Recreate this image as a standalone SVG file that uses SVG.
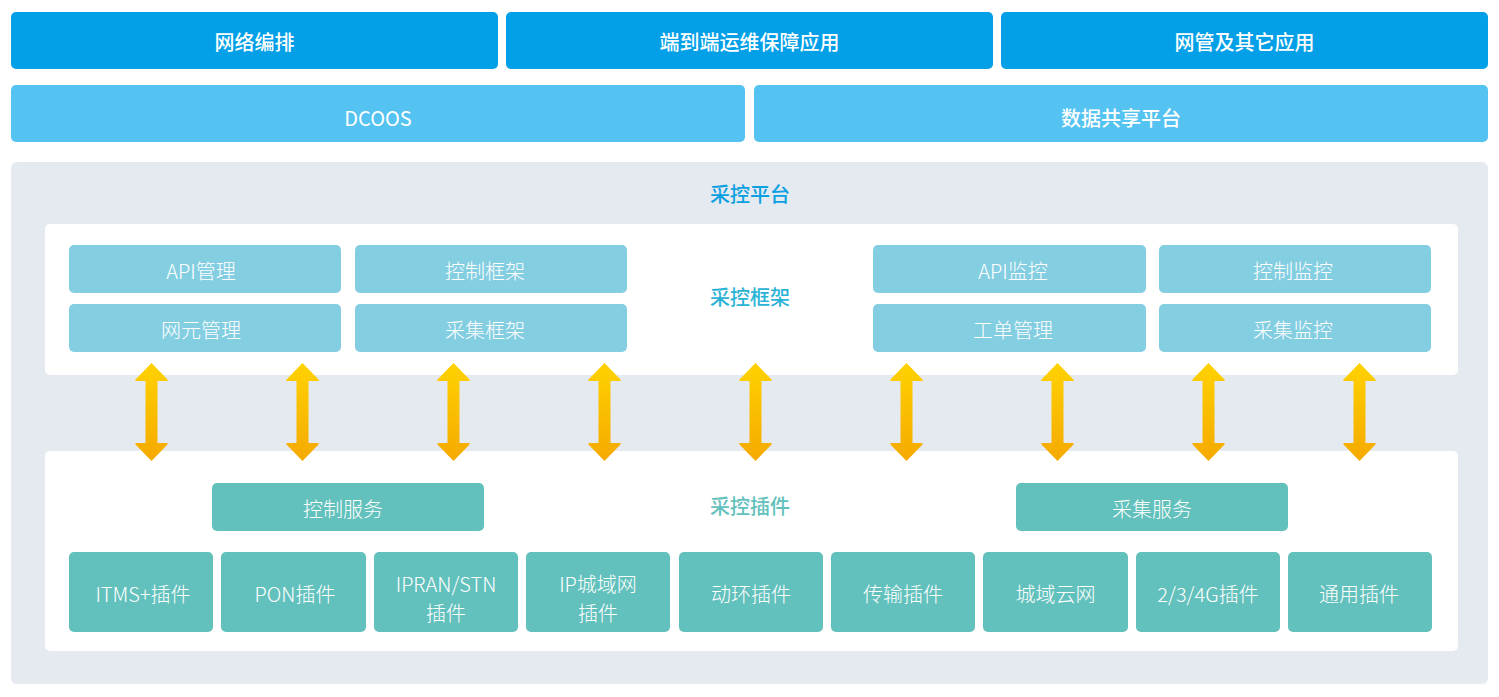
<svg xmlns="http://www.w3.org/2000/svg" width="1499" height="697" viewBox="0 0 1499 697">
<defs>
<linearGradient id="ag" x1="0" y1="0" x2="0" y2="1">
<stop offset="0" stop-color="#ffd200"/>
<stop offset="1" stop-color="#f5a900"/>
</linearGradient>
<path id="arr" d="M0,0 L16,16.5 Q17,18 15,18 L6,18 L6,80 L15,80 Q17,80 16,81.5 L0,98 L-16,81.5 Q-17,80 -15,80 L-6,80 L-6,18 L-15,18 Q-17,18 -16,16.5 Z" fill="url(#ag)"/>
<style>
text{font-family:"Noto Sans CJK SC","Noto Sans",sans-serif;text-anchor:middle;dominant-baseline:central;font-size:20px;fill:#fff;font-weight:300}
.top{fill:#03a0e8}
.sec{fill:#55c3f1}
.fw{fill:#84cee2}
.pl{fill:#62c1bc}
.b{font-weight:500}
</style>
</defs>
<rect x="0" y="0" width="1499" height="697" fill="#fff"/>
<g id="n-wlbp"><rect class="top" x="11" y="12" width="487" height="57" rx="5"/><text class="b" x="254.5" y="41">网络编排</text></g>
<g id="n-ddd"><rect class="top" x="506" y="12" width="487" height="57" rx="5"/><text class="b" x="749.5" y="41">端到端运维保障应用</text></g>
<g id="n-wg"><rect class="top" x="1001" y="12" width="487" height="57" rx="5"/><text class="b" x="1244.5" y="41">网管及其它应用</text></g>
<g id="n-dcoos"><rect class="sec" x="11" y="85" width="734" height="57" rx="5"/><text x="378" y="117" style="font-weight:400">DCOOS</text></g>
<g id="n-sjgx"><rect class="sec" x="754" y="85" width="734" height="57" rx="5"/><text class="b" x="1121" y="117">数据共享平台</text></g>
<g id="platform">
<rect x="11" y="162" width="1477" height="522" rx="6" fill="#e4eaef"/>
<text class="b" x="750" y="193" style="fill:#0aa0e2">采控平台</text>
</g>
<g id="framework">
<rect x="45" y="224" width="1413" height="151" rx="5" fill="#fff"/>
<text class="b" x="750" y="296" style="fill:#2bb3d6">采控框架</text>
</g>
<g id="n-apigl"><rect class="fw" x="69" y="245" width="272" height="48" rx="5"/><text x="201" y="270">API管理</text></g>
<g id="n-wygl"><rect class="fw" x="69" y="304" width="272" height="48" rx="5"/><text x="201" y="329">网元管理</text></g>
<g id="n-kzkj"><rect class="fw" x="355" y="245" width="272" height="48" rx="5"/><text x="485" y="270">控制框架</text></g>
<g id="n-cjkj"><rect class="fw" x="355" y="304" width="272" height="48" rx="5"/><text x="485" y="329">采集框架</text></g>
<g id="n-apijk"><rect class="fw" x="873" y="245" width="273" height="48" rx="5"/><text x="1013" y="270">API监控</text></g>
<g id="n-gdgl"><rect class="fw" x="873" y="304" width="273" height="48" rx="5"/><text x="1013" y="329">工单管理</text></g>
<g id="n-kzjk"><rect class="fw" x="1159" y="245" width="272" height="48" rx="5"/><text x="1293" y="270">控制监控</text></g>
<g id="n-cjjk"><rect class="fw" x="1159" y="304" width="272" height="48" rx="5"/><text x="1293" y="329">采集监控</text></g>
<g id="plugins">
<rect x="45" y="451" width="1413" height="200" rx="5" fill="#fff"/>
<text class="b" x="750" y="505" style="fill:#62c1bc">采控插件</text>
</g>
<g id="n-kzfw"><rect class="pl" x="212" y="483" width="272" height="48" rx="5"/><text x="343" y="508">控制服务</text></g>
<g id="n-cjfw"><rect class="pl" x="1016" y="483" width="272" height="48" rx="5"/><text x="1152" y="508">采集服务</text></g>
<g id="n-itms"><rect class="pl" x="69" y="552" width="144" height="80" rx="5"/><text x="143" y="593">ITMS+插件</text></g>
<g id="n-pon"><rect class="pl" x="221" y="552" width="145" height="80" rx="5"/><text x="295" y="593">PON插件</text></g>
<g id="n-ipran"><rect class="pl" x="374" y="552" width="144" height="80" rx="5"/><text x="446" y="583">IPRAN/STN<tspan x="446" dy="29">插件</tspan></text></g>
<g id="n-ipcy"><rect class="pl" x="526" y="552" width="144" height="80" rx="5"/><text x="598" y="583">IP城域网<tspan x="598" dy="29">插件</tspan></text></g>
<g id="n-dh"><rect class="pl" x="679" y="552" width="144" height="80" rx="5"/><text x="751" y="593">动环插件</text></g>
<g id="n-cs"><rect class="pl" x="831" y="552" width="144" height="80" rx="5"/><text x="903" y="593">传输插件</text></g>
<g id="n-cyyw"><rect class="pl" x="983" y="552" width="145" height="80" rx="5"/><text x="1055.5" y="593">城域云网</text></g>
<g id="n-234g"><rect class="pl" x="1136" y="552" width="144" height="80" rx="5"/><text x="1208" y="593">2/3/4G插件</text></g>
<g id="n-ty"><rect class="pl" x="1288" y="552" width="144" height="80" rx="5"/><text x="1359" y="593">通用插件</text></g>
<g id="connectors">
<use href="#arr" x="151.5" y="363"/>
<use href="#arr" x="302.5" y="363"/>
<use href="#arr" x="453.5" y="363"/>
<use href="#arr" x="604.5" y="363"/>
<use href="#arr" x="755.5" y="363"/>
<use href="#arr" x="906.5" y="363"/>
<use href="#arr" x="1057.5" y="363"/>
<use href="#arr" x="1208.5" y="363"/>
<use href="#arr" x="1359.5" y="363"/>
</g>
</svg>
